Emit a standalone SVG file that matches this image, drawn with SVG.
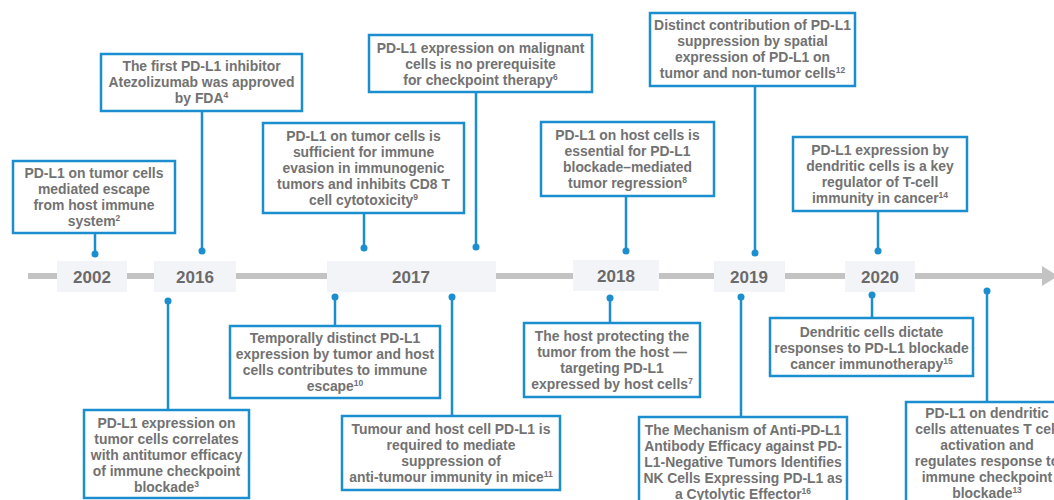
<svg xmlns="http://www.w3.org/2000/svg" width="1054" height="500" viewBox="0 0 1054 500">
<style>
.box{fill:#fff;stroke:#1b8ed0;stroke-width:2.5}
.yr{fill:#f3f4f7}
.t{font-family:"Liberation Sans",Arial,sans-serif;font-weight:bold;font-size:13.9px;fill:#727272;text-anchor:middle}
.y{font-family:"Liberation Sans",Arial,sans-serif;font-weight:bold;font-size:17px;fill:#6a6a6a;text-anchor:middle}
.s{font-size:8.5px}
.ln{stroke:#1b8ed0;stroke-width:2.5;fill:none}
.dot{fill:#1b8ed0}
</style>
<g id="timeline">
<rect x="28" y="273" width="1016" height="6" fill="#c3c3c3"/>
<polygon points="1042,266 1058,276 1042,286" fill="#c3c3c3"/>
</g>
<g id="years">
<g id="y2002"><rect class="yr" x="57" y="261" width="70" height="31"/><text class="y" x="92" y="283">2002</text></g>
<g id="y2016"><rect class="yr" x="154" y="261" width="82" height="31"/><text class="y" x="195" y="283">2016</text></g>
<g id="y2017"><rect class="yr" x="327" y="261" width="169" height="31"/><text class="y" x="411" y="283">2017</text></g>
<g id="y2018"><rect class="yr" x="573" y="260" width="86" height="31"/><text class="y" x="616" y="282">2018</text></g>
<g id="y2019"><rect class="yr" x="714" y="261" width="71" height="31"/><text class="y" x="749" y="283">2019</text></g>
<g id="y2020"><rect class="yr" x="845" y="261" width="70" height="31"/><text class="y" x="880" y="283">2020</text></g>
</g>
<g id="connectors">
<line class="ln" x1="95" y1="233" x2="95" y2="254"/><circle class="dot" cx="95" cy="254" r="3.5"/>
<line class="ln" x1="202" y1="111" x2="202" y2="251"/><circle class="dot" cx="202" cy="251" r="3.5"/>
<line class="ln" x1="364" y1="213" x2="364" y2="248"/><circle class="dot" cx="364" cy="248" r="3.5"/>
<line class="ln" x1="476" y1="92" x2="476" y2="247"/><circle class="dot" cx="476" cy="247" r="3.5"/>
<line class="ln" x1="626" y1="196" x2="626" y2="251"/><circle class="dot" cx="626" cy="251" r="3.5"/>
<line class="ln" x1="755" y1="86" x2="755" y2="253"/><circle class="dot" cx="755" cy="253" r="3.5"/>
<line class="ln" x1="878" y1="211" x2="878" y2="251"/><circle class="dot" cx="878" cy="251" r="3.5"/>
<line class="ln" x1="168" y1="301" x2="168" y2="410"/><circle class="dot" cx="168" cy="301" r="3.5"/>
<line class="ln" x1="335" y1="297" x2="335" y2="326"/><circle class="dot" cx="335" cy="297" r="3.5"/>
<line class="ln" x1="452" y1="297" x2="452" y2="416"/><circle class="dot" cx="452" cy="297" r="3.5"/>
<line class="ln" x1="610" y1="298" x2="610" y2="323"/><circle class="dot" cx="610" cy="298" r="3.5"/>
<line class="ln" x1="741" y1="297" x2="741" y2="417"/><circle class="dot" cx="741" cy="297" r="3.5"/>
<line class="ln" x1="872" y1="295" x2="872" y2="318"/><circle class="dot" cx="872" cy="295" r="3.5"/>
<line class="ln" x1="987" y1="291" x2="987" y2="402"/><circle class="dot" cx="987" cy="291" r="3.5"/>
</g>
<g id="n1"><rect class="box" x="13" y="161" width="162" height="72"/>
<text class="t" x="94" y="178">PD-L1 on tumor cells</text>
<text class="t" x="94" y="194">mediated escape</text>
<text class="t" x="94" y="210">from host immune</text>
<text class="t" x="94" y="226">system<tspan class="s" dy="-5">2</tspan></text></g>
<g id="n2"><rect class="box" x="101" y="54" width="201" height="57"/>
<text class="t" x="201.5" y="71">The first PD-L1 inhibitor</text>
<text class="t" x="201.5" y="87">Atezolizumab was approved</text>
<text class="t" x="201.5" y="103">by FDA<tspan class="s" dy="-5">4</tspan></text></g>
<g id="n3"><rect class="box" x="263" y="123" width="201" height="90"/>
<text class="t" x="363.5" y="141">PD-L1 on tumor cells is</text>
<text class="t" x="363.5" y="157">sufficient for immune</text>
<text class="t" x="363.5" y="173">evasion in immunogenic</text>
<text class="t" x="363.5" y="189">tumors and inhibits CD8 T</text>
<text class="t" x="363.5" y="205">cell cytotoxicity<tspan class="s" dy="-5">9</tspan></text></g>
<g id="n4"><rect class="box" x="369" y="35" width="223" height="57"/>
<text class="t" x="480.5" y="53">PD-L1 expression on malignant</text>
<text class="t" x="480.5" y="69">cells is no prerequisite</text>
<text class="t" x="480.5" y="85">for checkpoint therapy<tspan class="s" dy="-5">6</tspan></text></g>
<g id="n5"><rect class="box" x="541" y="122" width="173" height="74"/>
<text class="t" x="627.5" y="140">PD-L1 on host cells is</text>
<text class="t" x="627.5" y="156">essential for PD-L1</text>
<text class="t" x="627.5" y="172">blockade–mediated</text>
<text class="t" x="627.5" y="188">tumor regression<tspan class="s" dy="-5">8</tspan></text></g>
<g id="n6"><rect class="box" x="650" y="13" width="205" height="73"/>
<text class="t" x="752.5" y="30">Distinct contribution of PD-L1</text>
<text class="t" x="752.5" y="46">suppression by spatial</text>
<text class="t" x="752.5" y="62">expression of PD-L1 on</text>
<text class="t" x="752.5" y="78">tumor and non-tumor cells<tspan class="s" dy="-5">12</tspan></text></g>
<g id="n7"><rect class="box" x="793" y="137" width="174" height="74"/>
<text class="t" x="880" y="155">PD-L1 expression by</text>
<text class="t" x="880" y="171">dendritic cells is a key</text>
<text class="t" x="880" y="187">regulator of T-cell</text>
<text class="t" x="880" y="203">immunity in cancer<tspan class="s" dy="-5">14</tspan></text></g>
<g id="n8"><rect class="box" x="84" y="410" width="165" height="88"/>
<text class="t" x="166.5" y="428">PD-L1 expression on</text>
<text class="t" x="166.5" y="444">tumor cells correlates</text>
<text class="t" x="166.5" y="460">with antitumor efficacy</text>
<text class="t" x="166.5" y="476">of immune checkpoint</text>
<text class="t" x="166.5" y="492">blockade<tspan class="s" dy="-5">3</tspan></text></g>
<g id="n9"><rect class="box" x="230" y="326" width="210" height="72"/>
<text class="t" x="335" y="343">Temporally distinct PD-L1</text>
<text class="t" x="335" y="359">expression by tumor and host</text>
<text class="t" x="335" y="375">cells contributes to immune</text>
<text class="t" x="335" y="391">escape<tspan class="s" dy="-5">10</tspan></text></g>
<g id="n10"><rect class="box" x="342" y="416" width="218" height="74"/>
<text class="t" x="451" y="434">Tumour and host cell PD-L1 is</text>
<text class="t" x="451" y="450">required to mediate</text>
<text class="t" x="451" y="466">suppression of</text>
<text class="t" x="451" y="482">anti-tumour immunity in mice<tspan class="s" dy="-5">11</tspan></text></g>
<g id="n11"><rect class="box" x="524" y="323" width="176" height="74"/>
<text class="t" x="612" y="341">The host protecting the</text>
<text class="t" x="612" y="357">tumor from the host —</text>
<text class="t" x="612" y="373">targeting PD-L1</text>
<text class="t" x="612" y="389">expressed by host cells<tspan class="s" dy="-5">7</tspan></text></g>
<g id="n12"><rect class="box" x="639" y="417" width="208" height="92"/>
<text class="t" x="743" y="435">The Mechanism of Anti-PD-L1</text>
<text class="t" x="743" y="451">Antibody Efficacy against PD-</text>
<text class="t" x="743" y="467">L1-Negative Tumors Identifies</text>
<text class="t" x="743" y="483">NK Cells Expressing PD-L1 as</text>
<text class="t" x="743" y="499">a Cytolytic Effector<tspan class="s" dy="-5">16</tspan></text></g>
<g id="n13"><rect class="box" x="770" y="318" width="203" height="58"/>
<text class="t" x="871.5" y="337">Dendritic cells dictate</text>
<text class="t" x="871.5" y="353">responses to PD-L1 blockade</text>
<text class="t" x="871.5" y="369">cancer immunotherapy<tspan class="s" dy="-5">15</tspan></text></g>
<g id="n14"><rect class="box" x="906" y="402" width="162" height="108"/>
<text class="t" x="987" y="418">PD-L1 on dendritic</text>
<text class="t" x="987" y="434">cells attenuates T cell</text>
<text class="t" x="987" y="450">activation and</text>
<text class="t" x="987" y="466">regulates response to</text>
<text class="t" x="987" y="482">immune checkpoint</text>
<text class="t" x="987" y="498">blockade<tspan class="s" dy="-5">13</tspan></text></g>
</svg>
